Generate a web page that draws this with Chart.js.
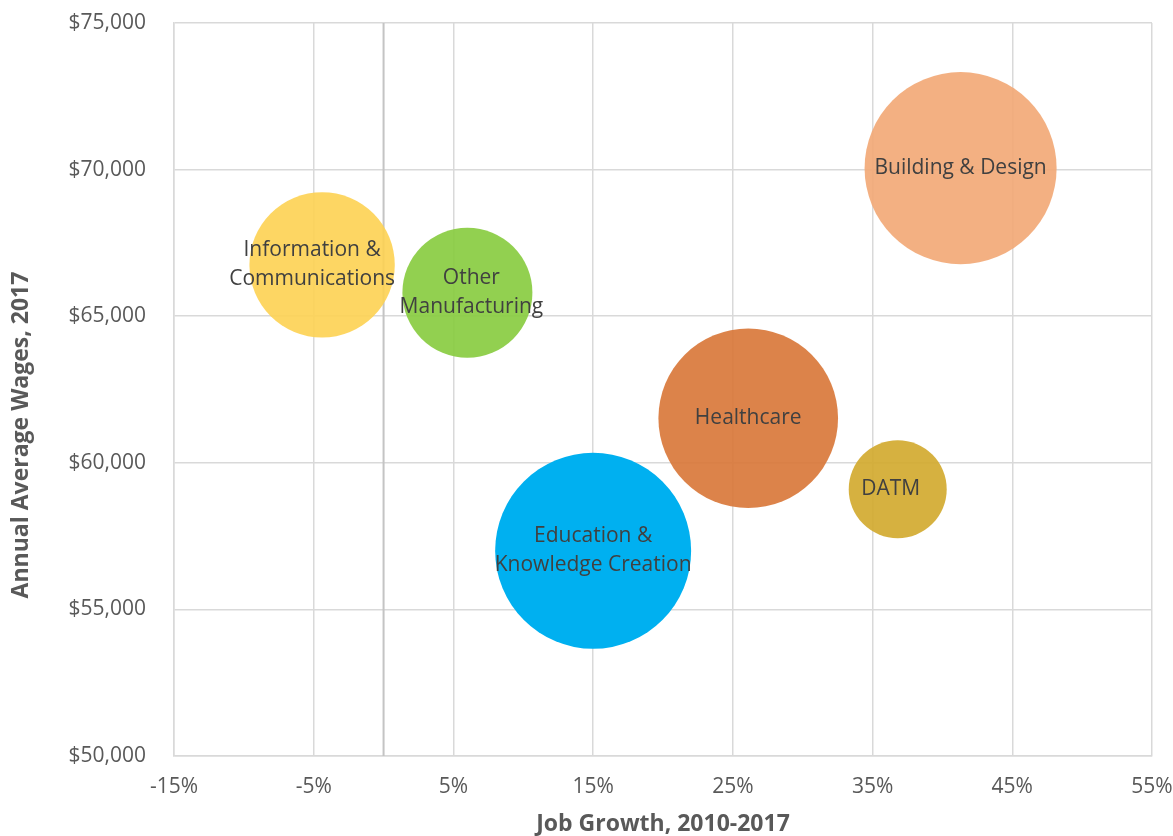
<!DOCTYPE html>
<html>
<head>
<meta charset="utf-8">
<title>Job Growth vs Annual Average Wages</title>
<script src="https://cdn.jsdelivr.net/npm/chart.js@4.4.1/dist/chart.umd.min.js"></script>
<style>
  html, body { margin: 0; padding: 0; background: #fff; }
  #wrap { width: 1173px; height: 836px; position: relative; }
</style>
</head>
<body>
<div id="wrap"><canvas id="bubbleChart"></canvas></div>
<script>
// industry clusters ("\n" splits the label inside the bubble)
const clusters = [
  "Information &\nCommunications",
  "Other\nManufacturing",
  "Building & Design",
  "Healthcare",
  "DATM",
  "Education &\nKnowledge Creation"
];
const jobGrowth = [-4.4, 6.0, 41.3, 26.1, 36.8, 15.0];          // %, 2010-2017
const avgWages = [66750, 65800, 70050, 61520, 59100, 57000];     // $, 2017
const clusterSize = [55, 44, 96, 84, 25, 100];                   // relative employment
const xTicks = [-15, -5, 5, 15, 25, 35, 45, 55];
const yTicks = [50000, 55000, 60000, 65000, 70000, 75000];

const fills = [
  "rgba(253, 210, 82, 0.9)",
  "rgba(134, 203, 61, 0.9)",
  "rgba(242, 167, 116, 0.9)",
  "rgba(216, 118, 54, 0.9)",
  "rgba(210, 169, 43, 0.9)",
  "rgba(0, 176, 240, 1)"
];
// small horizontal nudges for a couple of labels (px)
const labelNudge = [-10, 4, 0, 0, -7, 0];

const FONT = '"Open Sans", "Liberation Sans", sans-serif';
const GRID = "#d9d9d9";
const maxR = 98;
const maxSize = Math.max.apply(null, clusterSize);

const points = [];
for (let i = 0; i < clusters.length; i++) {
  points.push({
    x: jobGrowth[i],
    y: avgWages[i],
    r: maxR * Math.sqrt(clusterSize[i] / maxSize)
  });
}

// y axis line sits at 0% growth
const zeroLine = {
  id: "zeroLine",
  beforeDatasetsDraw(chart) {
    const ctx = chart.ctx;
    const area = chart.chartArea;
    const x = chart.scales.x.getPixelForValue(0);
    ctx.save();
    ctx.strokeStyle = "#c4c4c4";
    ctx.lineWidth = 2;
    ctx.beginPath();
    ctx.moveTo(x, area.top);
    ctx.lineTo(x, area.bottom);
    ctx.stroke();
    ctx.restore();
  }
};

const bubbleLabels = {
  id: "bubbleLabels",
  afterDatasetsDraw(chart) {
    const ctx = chart.ctx;
    const meta = chart.getDatasetMeta(0);
    ctx.save();
    ctx.font = "21px " + FONT;
    ctx.fillStyle = "#404040";
    ctx.textAlign = "center";
    ctx.textBaseline = "middle";
    meta.data.forEach(function(pt, i) {
      const lines = clusters[i].split("\n");
      lines.forEach(function(line, j) {
        ctx.fillText(line, pt.x + labelNudge[i], pt.y + (j - (lines.length - 1) / 2) * 29);
      });
    });
    ctx.restore();
  }
};

// rotated wage title, drawn by hand so it can sit a little low
const yTitle = {
  id: "yTitle",
  afterDraw(chart) {
    const ctx = chart.ctx;
    ctx.save();
    ctx.translate(21, 435);
    ctx.rotate(-Math.PI / 2);
    ctx.font = "bold 23px " + FONT;
    ctx.fillStyle = "#595959";
    ctx.textAlign = "center";
    ctx.textBaseline = "middle";
    ctx.fillText("Annual Average Wages, 2017", 0, 0);
    ctx.restore();
  }
};

new Chart(document.getElementById("bubbleChart"), {
  type: "bubble",
  data: {
    datasets: [{
      label: "Clusters",
      data: points,
      backgroundColor: fills,
      borderWidth: 0,
      hoverBorderWidth: 0
    }]
  },
  options: {
    responsive: true,
    maintainAspectRatio: false,
    animation: false,
    layout: { autoPadding: false, padding: { top: 23, right: 21, left: 0, bottom: 0 } },
    plugins: {
      legend: { display: false },
      tooltip: { enabled: false }
    },
    scales: {
      x: {
        type: "linear",
        min: xTicks[0],
        max: xTicks[xTicks.length - 1],
        afterBuildTicks: function(scale) {
          scale.ticks = xTicks.map(function(v) { return { value: v }; });
        },
        afterFit: function(scale) {
          scale.height = 80;
          scale.paddingLeft = 0;
          scale.paddingRight = 0;
        },
        grid: { color: GRID, lineWidth: 1.5, drawTicks: false },
        border: { color: GRID, width: 1.5 },
        ticks: {
          padding: 18,
          color: "#595959",
          font: { family: FONT, size: 21 },
          callback: function(v) { return v + "%"; }
        },
        title: {
          display: true,
          text: "Job Growth, 2010-2017",
          color: "#595959",
          font: { family: FONT, size: 23, weight: "bold" },
          padding: { top: 0, bottom: -2 }
        }
      },
      y: {
        type: "linear",
        min: yTicks[0],
        max: yTicks[yTicks.length - 1],
        afterBuildTicks: function(scale) {
          scale.ticks = yTicks.map(function(v) { return { value: v }; });
        },
        afterFit: function(scale) {
          scale.width = 174;
          scale.paddingTop = 0;
          scale.paddingBottom = 0;
        },
        grid: { color: GRID, lineWidth: 1.5, drawTicks: false },
        border: { color: GRID, width: 1.5 },
        ticks: {
          padding: 28,
          color: "#595959",
          font: { family: FONT, size: 21 },
          callback: function(v) { return "$" + v.toLocaleString("en-US"); }
        }
      }
    }
  },
  plugins: [zeroLine, bubbleLabels, yTitle]
});
</script>
</body>
</html>
